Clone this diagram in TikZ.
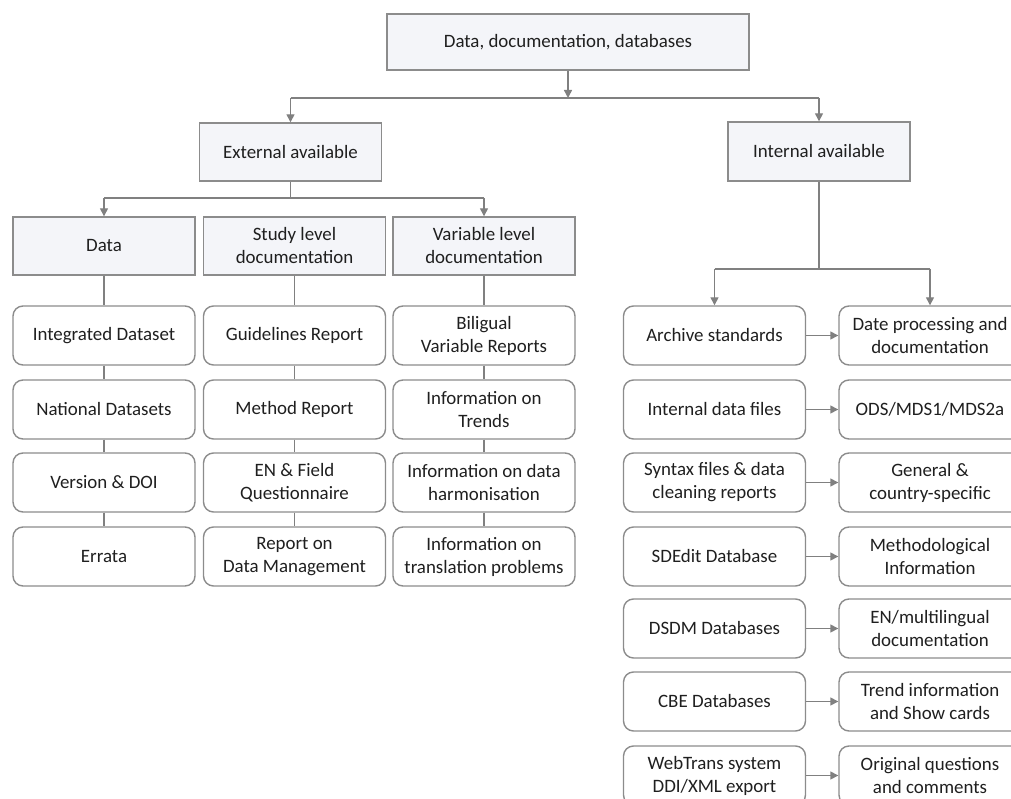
\documentclass[tikz,border=0pt]{standalone}
\usepackage{fontspec}
\setmainfont{Carlito}
\usetikzlibrary{arrows.meta}
\definecolor{linegray}{HTML}{808080}
\definecolor{boxgray}{HTML}{8C8C8C}
\definecolor{headfill}{HTML}{F4F5F9}

\begin{document}
\begin{tikzpicture}[x=1pt, y=-1pt,
  every node/.style={font=\fontsize{18.9}{23}\selectfont, align=center, text=black!88, inner sep=2pt},
  head/.style={draw=boxgray, line width=1.4pt, fill=headfill, minimum width=182pt, minimum height=58pt},
  item/.style={draw=boxgray, line width=1.4pt, fill=white, rounded corners=10pt, minimum width=182pt, minimum height=59pt},
  link/.style={draw=linegray, line width=1.4pt},
  arr/.style={link, -{Triangle[length=8pt, width=8pt]}}]
\useasboundingbox (0,0) rectangle (1011,799);

\node[head, minimum width=362pt, minimum height=56pt] (top) at (568,42) {Data, documentation, databases};
\node[head] (ext) at (290.5,152) {External available};
\node[head, minimum height=59pt] (int) at (819,151.5) {Internal available};

\node[head] (data) at (104,246) {Data};
\node[head] (study) at (294.5,246) {Study level\\documentation};
\node[head] (var) at (484,246) {Variable level\\documentation};

\node[item] (data1) at (104,335.5) {Integrated Dataset};
\node[item] (data2) at (104,409.5) {National Datasets};
\node[item] (data3) at (104,482.5) {Version \& DOI};
\node[item] (data4) at (104,556.5) {Errata};

\node[item] (study1) at (294.5,335.5) {Guidelines Report};
\node[item] (study2) at (294.5,409.5) {Method Report};
\node[item] (study3) at (294.5,482.5) {EN \& Field\\Questionnaire};
\node[item] (study4) at (294.5,556.5) {Report on\\Data Management};

\node[item] (var1) at (484,335.5) {Biligual\\Variable Reports};
\node[item] (var2) at (484,409.5) {Information on\\Trends};
\node[item] (var3) at (484,482.5) {Information on data\\harmonisation};
\node[item] (var4) at (484,556.5) {Information on\\translation problems};

\node[item] (src1) at (714.5,335.5) {Archive standards};
\node[item] (src2) at (714.5,409.5) {Internal data files};
\node[item] (src3) at (714.5,482.5) {Syntax files \& data\\cleaning reports};
\node[item] (src4) at (714.5,556.5) {SDEdit Database};
\node[item] (src5) at (714.5,628.5) {DSDM Databases};
\node[item] (src6) at (714.5,701.5) {CBE Databases};
\node[item] (src7) at (714.5,775.5) {WebTrans system\\DDI/XML export};

\node[item] (dst1) at (930,335.5) {Date processing and\\documentation};
\node[item] (dst2) at (930,409.5) {ODS/MDS1/MDS2a};
\node[item] (dst3) at (930,482.5) {General \&\\country-specific};
\node[item] (dst4) at (930,556.5) {Methodological\\Information};
\node[item] (dst5) at (930,628.5) {EN/multilingual\\documentation};
\node[item] (dst6) at (930,701.5) {Trend information\\and Show cards};
\node[item] (dst7) at (930,775.5) {Original questions\\and comments};

\coordinate (split) at (568,98);
\draw[arr] (top.south) -- (split);
\draw[link] (ext.north |- split) -- (int.north |- split);
\draw[arr] (ext.north |- split) -- (ext.north);
\draw[arr] (int.north |- split) -- (int.north);

\coordinate (extsplit) at (290.5,198);
\draw[link] (ext.south) -- (extsplit);
\draw[link] (data.north |- extsplit) -- (var.north |- extsplit);
\draw[arr] (data.north |- extsplit) -- (data.north);
\draw[arr] (var.north |- extsplit) -- (var.north);

\foreach \c in {data, study, var} {
  \draw[link] (\c) -- (\c1);
  \foreach \i [evaluate=\i as \j using int(\i+1)] in {1,2,3}
    \draw[link] (\c\i) -- (\c\j);
}

\coordinate (intsplit) at (819,269);
\draw[link] (int.south) -- (intsplit);
\draw[link] (src1.north |- intsplit) -- (dst1.north |- intsplit);
\draw[arr] (src1.north |- intsplit) -- (src1.north);
\draw[arr] (dst1.north |- intsplit) -- (dst1.north);

\foreach \i in {1,...,7}
  \draw[arr] (src\i) -- (dst\i);
\end{tikzpicture}
\end{document}
